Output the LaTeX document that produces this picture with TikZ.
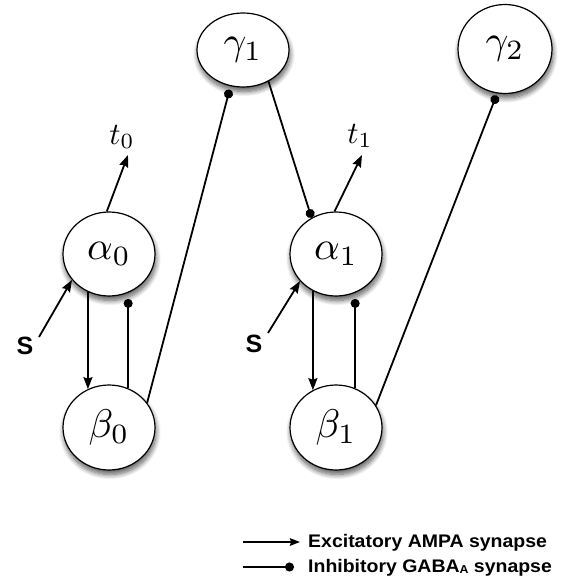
\documentclass[tikz,border=0pt]{standalone}
\usepackage{fontspec}
\newfontfamily\sfont{Liberation Sans}
\newfontfamily\legendfont[FakeStretch=1.07]{Liberation Sans}
\usetikzlibrary{arrows.meta,shapes.geometric,shadows.blur}
\newcommand\bigmath[2]{\scalebox{#1}{$#2$}}
\begin{document}
\begin{tikzpicture}[x=1pt,y=-1pt,
  neuron/.style={ellipse, draw, line width=1.2pt, fill=white, inner sep=0pt,
    minimum width=92pt, minimum height=84pt,
    blur shadow={shadow xshift=1pt, shadow yshift=-4.5pt, shadow blur radius=5pt,
      shadow blur steps=10, shadow opacity=65}},
  exc/.style={line width=1.8pt, -{Stealth[length=12pt,width=9pt,inset=1.5pt]}},
  inh/.style={line width=1.8pt, -{Circle[length=9pt]}},
  tlabel/.style={inner sep=0pt},
  slabel/.style={font=\sfont\bfseries\fontsize{25}{30}\selectfont, inner sep=0pt},
  legend/.style={font=\legendfont\bfseries\fontsize{18.2}{22}\selectfont, inner sep=0pt, anchor=base west}]
\useasboundingbox (0,0) rectangle (562,580);

% neurons
\node[neuron, minimum height=74pt] (g1) at (243,50) {\bigmath{4}{\gamma_1}};
\node[neuron, minimum width=94pt, minimum height=89pt] (g2) at (505,49) {\bigmath{4}{\gamma_2}};
\node[neuron] (a0) at (109,254) {\bigmath{4}{\alpha_0}};
\node[neuron, minimum height=85pt] (b0) at (109,427.5) {\bigmath{4}{\beta_0}};
\node[neuron] (a1) at (336,254) {\bigmath{4}{\alpha_1}};
\node[neuron, minimum height=85pt] (b1) at (336,427.5) {\bigmath{4}{\beta_1}};

% labels
\node[tlabel] (t0) at (122,137) {\bigmath{3.1}{t_0}};
\node[tlabel] (t1) at (360,136) {\bigmath{3.1}{t_1}};
\node[slabel] (s0) at (25,346) {S};
\node[slabel] (s1) at (254,344) {S};
\coordinate (t0end) at (128,155);
\coordinate (t1end) at (362,155);
\coordinate (s0tail) at (39,337);
\coordinate (s1tail) at (268,333);

% connectors, first column
\draw[exc] (a0.93) -- (t0end);
\draw[exc] (s0tail) -- (a0.215);
\draw[exc] (a0.241) -- (a0.241 |- b0.119);
\draw[inh, shorten >=6pt] (b0.64) -- (b0.64 |- a0.296);
\draw[inh, shorten >=3.5pt] (b0.33) -- (g1.251);

% second column
\draw[inh] (g1.309) -- (a1.124);
\draw[exc] (a1.92) -- (t1end);
\draw[exc] (s1tail) -- (a1.217);
\draw[exc] (a1.238) -- (a1.238 |- b1.122);
\draw[inh, shorten >=6pt] (b1.64) -- (b1.64 |- a1.296);
\draw[inh, shorten >=2pt] (b1.29) -- (g2.260);

% legend
\coordinate (l1a) at (243,542);
\coordinate (l2a) at (243,567);
\node[legend] (l1) at (308,547) {Excitatory AMPA synapse};
\node[legend] (l2) at (308,572) {Inhibitory GABA\raisebox{-1pt}{\fontsize{11.5}{12}\selectfont A} synapse};
\draw[line width=1.8pt, -{Stealth[length=10pt,width=7.5pt,inset=1pt]}, shorten >=8pt] (l1a) -- (l1a -| l1.west);
\draw[inh, shorten >=14pt] (l2a) -- (l2a -| l2.west);
\end{tikzpicture}
\end{document}
